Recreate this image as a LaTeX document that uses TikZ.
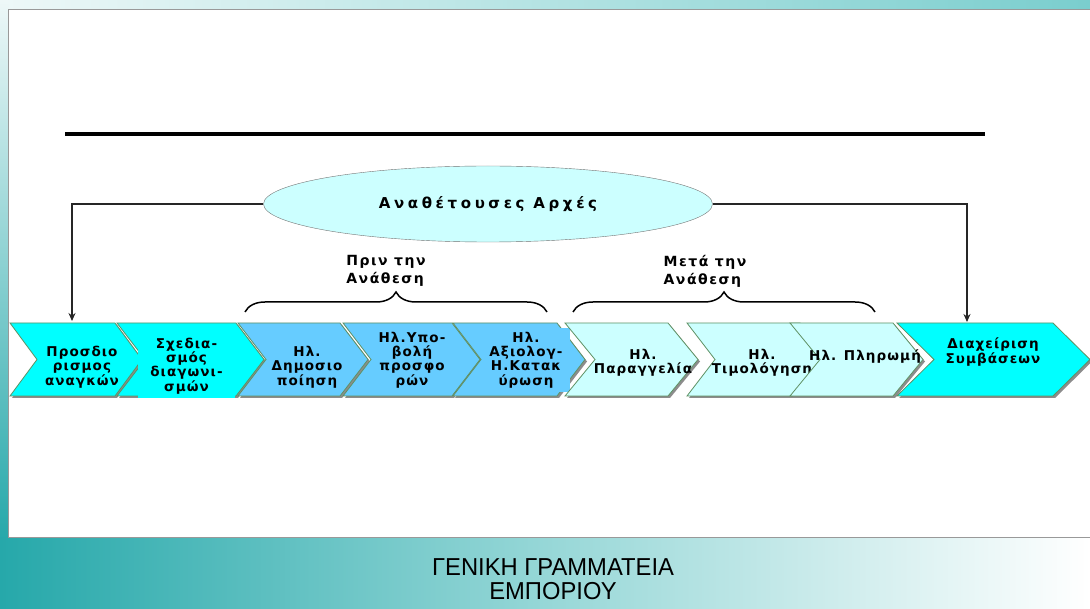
\documentclass[tikz,border=0pt]{standalone}
\usepackage{fontspec}
\usetikzlibrary{shapes.geometric,decorations.pathreplacing,arrows.meta}
\newfontfamily\lblfont[LetterSpace=8]{DejaVu Sans Bold}
\newfontfamily\braclblfont[LetterSpace=11]{DejaVu Sans Bold}
\newfontfamily\headfont[LetterSpace=24]{DejaVu Sans Bold}
\newfontfamily\footfont[FakeStretch=0.97]{Liberation Sans}
\definecolor{cyanA}{RGB}{0,255,255}
\definecolor{blueA}{RGB}{102,204,255}
\definecolor{paleA}{RGB}{204,255,255}
\definecolor{edgeG}{RGB}{95,145,100}
\definecolor{tealD}{RGB}{38,168,170}
\definecolor{tealM}{RGB}{150,215,215}
\definecolor{tealL}{RGB}{122,206,206}
\definecolor{topL}{RGB}{238,248,248}
\tikzset{
  chev/.style={draw=edgeG, line width=0.8pt},
  chevshadow/.style={fill=black!45},
  lbl/.style={font=\lblfont\fontsize{13.5}{14.3}\selectfont, align=center, inner sep=0pt},
  blbl/.style={font=\braclblfont\fontsize{14}{18}\selectfont, align=left, inner sep=0pt},
  head/.style={font=\headfont\fontsize{15}{15}\selectfont},
  conn/.style={draw=black!85, line width=1.5pt, -{Stealth[length=8pt,width=7pt]}},
  bracestyle/.style={draw=black, line width=1.5pt, decorate, decoration={brace, amplitude=20pt}},
}
\newcommand\chev[5]{%
  \fill[chevshadow] ({#1+2},325) -- ({#2+2},325) -- ({#2+#3+2},361.5) -- ({#2+2},398) -- ({#1+2},398) -- ({#1+#3+2},361.5) -- cycle;
  \draw[chev,fill=#4] (#1,323) -- (#2,323) -- ({#2+#3},359.5) -- (#2,396) -- (#1,396) -- ({#1+#3},359.5) -- cycle;
  \coordinate (#5) at ({(#1+#2+#3)/2},359.5);
}
\begin{document}
\begin{tikzpicture}[x=1pt,y=-1pt]
\useasboundingbox (0,0) rectangle (1090,609);
% background
\shade[left color=topL, right color=tealL] (0,0) rectangle (1090,10);
\shade[top color=topL, bottom color=tealD] (0,0) rectangle (8,540);
\shade[left color=tealD, right color=white, middle color=tealM] (0,537) rectangle (1090,609);
\fill[white] (8,10) rectangle (1090,537);
\draw[black!40, line width=1pt] (1090,10) -- (8,10) -- (8,537) -- (1090,537);
% thick rule
\draw[black, line width=4pt] (65,134) -- (985,134);
% ellipse
\node[ellipse, draw=black!55, fill=paleA, minimum width=449pt, minimum height=76pt, inner sep=0pt, head] (aa) at (488,204) {Αναθέτουσες Αρχές};
\coordinate (c1top) at (72,321);
\coordinate (c9top) at (967,322);
\draw[conn] (aa.west) -| (c1top);
\draw[conn] (aa.east) -| (c9top);
% braces
\coordinate (b1l) at (245,312); \coordinate (b1r) at (547,312);
\coordinate (b2l) at (573,312); \coordinate (b2r) at (875,312);
\draw[bracestyle] (b1l) -- (b1r);
\draw[bracestyle] (b2l) -- (b2r);
\node[blbl] (pre) at (386,271) {Πριν την\\Ανάθεση};
\node[blbl] (post) at (705,271) {Μετά την\\Ανάθεση};
% chevrons
\chev{10}{115}{27}{cyanA}{c1}
\node[lbl] (t1) at (82,367) {Προσδιο\\ρισμος\\αναγκών};
\chev{117}{236}{28}{cyanA}{c2}
\node[lbl, fill=cyanA, minimum width=97pt, minimum height=64pt] (t2) at (186.5,366) {Σχεδια-\\σμός\\διαγωνι-\\σμών};
\chev{238}{340}{28}{blueA}{c3}
\node[lbl] (t3) at (307,367) {Ηλ.\\Δημοσιο\\ποίηση};
\chev{343}{452}{28}{blueA}{c4}
\node[lbl] (t4) at (412,360) {Ηλ.Υπο-\\βολή\\προσφο\\ρών};
\chev{453}{557}{28}{blueA}{c5}
\node[lbl, fill=blueA, minimum width=88pt, minimum height=64pt] (t5) at (526,360) {Ηλ.\\Αξιολογ-\\Η.Κατακ\\ύρωση};
\chev{565}{668}{30}{paleA}{c6}
\node[lbl] (t6) at (643,363) {Ηλ.\\Παραγγελία};
\chev{687}{800}{28}{paleA}{c7}
\node[lbl] (t7) at (762,363) {Ηλ.\\Τιμολόγηση};
\chev{790}{893}{30}{paleA}{c8}
\node[lbl] (t8) at (865,357) {Ηλ. Πληρωμή};
\chev{897}{1053}{37}{cyanA}{c9}
\node[lbl] (t9) at (993,352) {Διαχείριση\\Συμβάσεων};
% footer
\node[font=\footfont\fontsize{24.5}{24}\selectfont, align=center, inner sep=0pt] (gg) at (553,579) {ΓΕΝΙΚΗ ΓΡΑΜΜΑΤΕΙΑ\\ΕΜΠΟΡΙΟΥ};
\end{tikzpicture}
\end{document}
